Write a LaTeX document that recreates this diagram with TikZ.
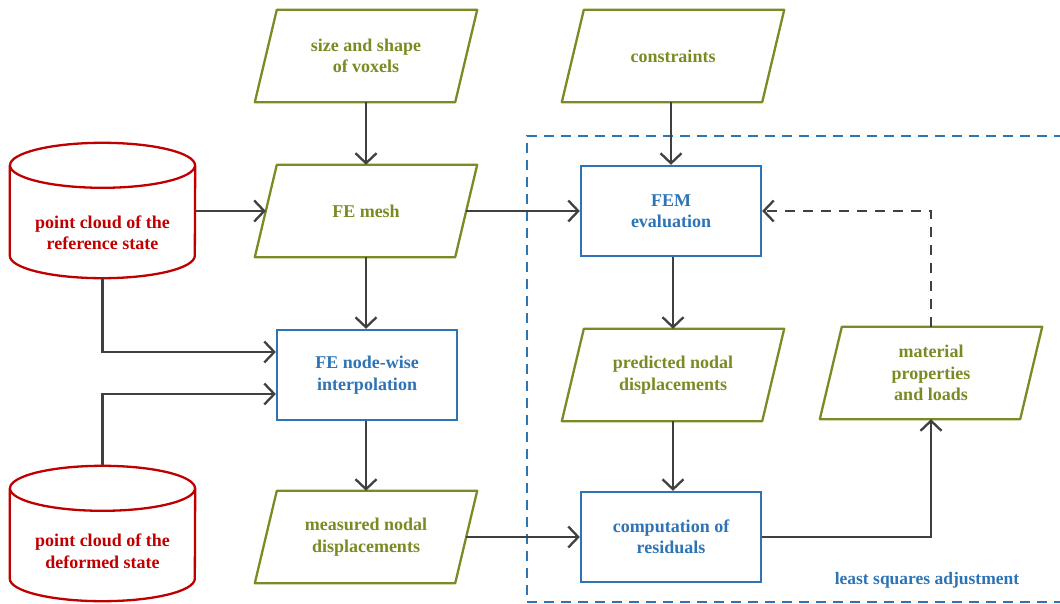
\documentclass[tikz,border=0pt]{standalone}
\usepackage{fontspec}
\setmainfont{Liberation Serif}
\usetikzlibrary{shapes.geometric,arrows.meta,calc}
\definecolor{olivec}{HTML}{7A8B23}
\definecolor{bluec}{HTML}{2E74B5}
\definecolor{redc}{HTML}{C00000}
\definecolor{grayc}{HTML}{404040}
\tikzset{
  txt/.style={font=\bfseries\fontsize{18}{21.5}\selectfont, align=center, inner sep=0pt},
  para/.style={txt, rectangle, text=olivec, minimum width=200pt, minimum height=92pt},
  paraline/.style={draw=olivec, line width=2.3pt, line join=round},
  proc/.style={txt, rectangle, draw=bluec, text=bluec, line width=2.3pt,
    minimum width=180pt, minimum height=90pt},
  cylbox/.style={txt, rectangle, minimum width=185pt, minimum height=135pt},
  cylline/.style={draw=redc, line width=2.3pt},
  conn/.style={draw=grayc, line width=2.3pt, -{Straight Barb[length=10pt,width=21pt,line width=2.3pt]}},
  dconn/.style={conn, dash pattern=on 10pt off 8pt},
  region/.style={draw=bluec, line width=2.3pt, dash pattern=on 10pt off 7pt}
}
\newcommand{\drawcyl}[1]{%
  \draw[cylline] ([yshift=-22.5pt]#1.north) ellipse [x radius=92.5pt, y radius=22.5pt];
  \draw[cylline] ([yshift=-22.5pt]#1.north west) -- ([yshift=22.5pt]#1.south west)
    arc[start angle=180, end angle=360, x radius=92.5pt, y radius=22.5pt]
    -- ([yshift=-22.5pt]#1.north east);}
\newcommand{\drawpara}[1]{%
  \draw[paraline] ([xshift=11pt]#1.north west) -- ([xshift=11pt]#1.north east)
    -- ([xshift=-11pt]#1.south east) -- ([xshift=-11pt]#1.south west) -- cycle;}
\begin{document}
\begin{tikzpicture}[x=1pt,y=-1pt]
\useasboundingbox (0,0) rectangle (1060,604);
% least squares region
\draw[region] (1064,136) -- (527,136) -- (527,602) -- (1064,602);
\node[txt, text=bluec, font=\bfseries\fontsize{17.5}{20}\selectfont] (lsa) at (927,580) {least squares adjustment};
% nodes
\node[para] (vox) at (366,56) {size and shape\\of voxels};
\node[para] (con) at (673,56) {constraints};
\node[para] (mesh) at (366,211) {FE mesh};
\node[proc] (fem) at (671,211) {FEM\\evaluation};
\node[proc] (interp) at (367,375) {FE node-wise\\interpolation};
\node[para] (pred) at (673,375) {predicted nodal\\displacements};
\node[para] (mat) at (931,373) {material\\properties\\and loads};
\node[para] (meas) at (366,537) {measured nodal\\displacements};
\node[proc] (res) at (671,537) {computation of\\residuals};
\node[cylbox] (c1) at (102.5,210.5) {};
\node[txt, text=redc] (t1) at (102.5,233) {point cloud of the\\reference state};
\node[cylbox] (c2) at (102.5,533.5) {};
\node[txt, text=redc] (t2) at (102.5,551) {point cloud of the\\deformed state};
\drawcyl{c1}
\drawcyl{c2}
\foreach \n in {vox,con,mesh,pred,mat,meas} {\drawpara{\n}}
% connectors
\draw[conn] (c1.east |- mesh) -- (mesh);
\draw[conn] (vox) -- (mesh);
\draw[conn] (con.south -| fem) -- (fem);
\draw[conn] (mesh) -- (fem);
\draw[conn] (mesh) -- (interp.north -| mesh);
\draw[conn] (c1.south) |- ([yshift=23pt]interp.west);
\draw[conn] (c2.north) |- ([yshift=-19pt]interp.west);
\draw[conn] (interp.south -| meas) -- (meas);
\draw[conn] (meas.east) -- (meas.east -| res.west);
\draw[conn] (fem.south -| pred) -- (pred);
\draw[conn] (pred) -- (res.north -| pred);
\draw[conn] (res.east) -| (mat.south);
\draw[dconn] (mat.north) |- (fem.east);
\end{tikzpicture}
\end{document}
